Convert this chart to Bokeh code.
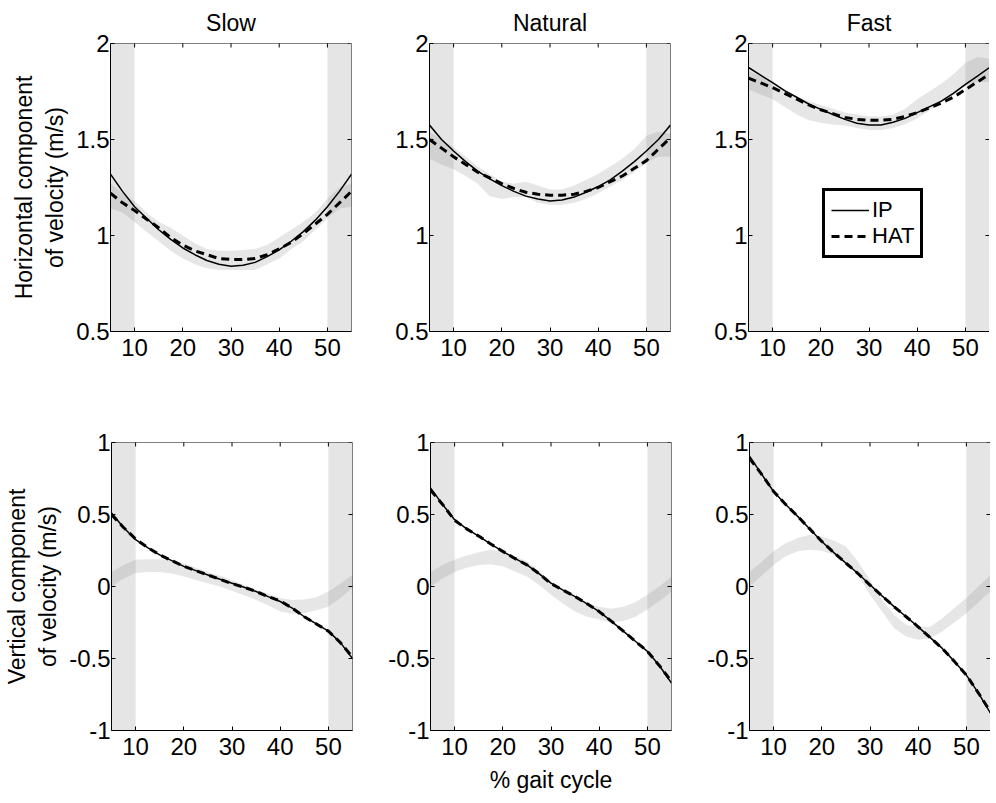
import math
from bokeh.plotting import figure
from bokeh.models import (Range1d, FixedTicker, CustomJSTickFormatter,
                          BoxAnnotation, Legend, LegendItem, Span)
from bokeh.layouts import column, row
from bokeh.embed import file_html
from bokeh.resources import INLINE

# ---------------- data ----------------
pct = [5, 7.5, 10, 12.5, 15, 17.5, 20, 22.5, 25, 27.5, 30, 32.5, 35, 37.5, 40,
       42.5, 45, 47.5, 50, 52.5, 55]
speeds = ["Slow", "Natural", "Fast"]
double_support = [(5, 10), (50, 55)]

# Horizontal component of velocity (m/s)
h_ip_slow = [1.32, 1.23, 1.15, 1.09, 1.03, 0.98, 0.935, 0.90, 0.87, 0.85, 0.84, 0.845, 0.86, 0.89, 0.925, 0.97, 1.02, 1.08, 1.15, 1.23, 1.32]
h_hat_slow = [1.22, 1.17, 1.13, 1.085, 1.04, 0.99, 0.95, 0.92, 0.90, 0.88, 0.875, 0.875, 0.88, 0.90, 0.93, 0.965, 1.01, 1.06, 1.11, 1.17, 1.23]
h_hi_slow = [1.27, 1.22, 1.18, 1.12, 1.07, 1.04, 1.00, 0.96, 0.93, 0.92, 0.92, 0.925, 0.93, 0.95, 0.99, 1.03, 1.07, 1.12, 1.19, 1.25, 1.27]
h_lo_slow = [1.14, 1.12, 1.07, 1.02, 0.97, 0.92, 0.88, 0.85, 0.83, 0.82, 0.82, 0.82, 0.82, 0.85, 0.88, 0.93, 0.97, 1.03, 1.09, 1.14, 1.15]

h_ip_nat = [1.575, 1.50, 1.44, 1.385, 1.335, 1.295, 1.26, 1.23, 1.205, 1.19, 1.18, 1.185, 1.20, 1.225, 1.255, 1.29, 1.335, 1.385, 1.44, 1.50, 1.575]
h_hat_nat = [1.50, 1.455, 1.41, 1.37, 1.33, 1.30, 1.27, 1.245, 1.225, 1.215, 1.21, 1.21, 1.215, 1.23, 1.25, 1.28, 1.31, 1.35, 1.39, 1.45, 1.51]
h_hi_nat = [1.54, 1.50, 1.46, 1.41, 1.36, 1.32, 1.28, 1.27, 1.28, 1.26, 1.24, 1.24, 1.26, 1.29, 1.32, 1.36, 1.40, 1.45, 1.52, 1.54, 1.53]
h_lo_nat = [1.40, 1.37, 1.345, 1.31, 1.27, 1.205, 1.19, 1.20, 1.20, 1.17, 1.16, 1.16, 1.17, 1.19, 1.22, 1.255, 1.29, 1.33, 1.38, 1.41, 1.41]

h_ip_fast = [1.875, 1.835, 1.796, 1.755, 1.72, 1.685, 1.657, 1.63, 1.605, 1.585, 1.575, 1.575, 1.59, 1.61, 1.64, 1.67, 1.70, 1.74, 1.787, 1.83, 1.875]
h_hat_fast = [1.82, 1.795, 1.77, 1.74, 1.71, 1.68, 1.655, 1.635, 1.615, 1.605, 1.60, 1.60, 1.605, 1.62, 1.64, 1.665, 1.69, 1.72, 1.76, 1.80, 1.84]
h_hi_fast = [1.857, 1.83, 1.80, 1.76, 1.72, 1.70, 1.68, 1.66, 1.64, 1.63, 1.62, 1.62, 1.63, 1.66, 1.71, 1.75, 1.79, 1.84, 1.90, 1.93, 1.92]
h_lo_fast = [1.76, 1.735, 1.71, 1.67, 1.63, 1.60, 1.587, 1.578, 1.573, 1.56, 1.55, 1.55, 1.56, 1.58, 1.61, 1.65, 1.69, 1.73, 1.78, 1.80, 1.80]

# Vertical component of velocity (m/s)
v_ip_slow = [0.51, 0.41, 0.325, 0.27, 0.22, 0.18, 0.14, 0.11, 0.08, 0.05, 0.023, -0.005, -0.035, -0.07, -0.104, -0.15, -0.21, -0.26, -0.31, -0.39, -0.50]
v_hat_slow = [0.50, 0.41, 0.33, 0.27, 0.22, 0.18, 0.14, 0.11, 0.08, 0.05, 0.02, -0.005, -0.035, -0.07, -0.10, -0.15, -0.21, -0.26, -0.31, -0.39, -0.49]
v_hi_slow = [0.10, 0.15, 0.185, 0.19, 0.19, 0.18, 0.16, 0.13, 0.10, 0.075, 0.046, 0.01, -0.023, -0.05, -0.08, -0.093, -0.09, -0.075, -0.035, 0.02, 0.08]
v_lo_slow = [0.0, 0.055, 0.093, 0.10, 0.10, 0.09, 0.07, 0.045, 0.023, 0.0, -0.03, -0.06, -0.093, -0.13, -0.174, -0.19, -0.185, -0.165, -0.14, -0.08, -0.01]

v_ip_nat = [0.684, 0.57, 0.464, 0.40, 0.35, 0.295, 0.244, 0.195, 0.15, 0.09, 0.023, -0.025, -0.07, -0.12, -0.174, -0.24, -0.31, -0.38, -0.45, -0.55, -0.67]
v_hat_nat = [0.67, 0.57, 0.46, 0.40, 0.35, 0.295, 0.244, 0.195, 0.15, 0.09, 0.02, -0.025, -0.07, -0.12, -0.174, -0.24, -0.31, -0.38, -0.45, -0.55, -0.66]
v_hi_nat = [0.10, 0.15, 0.185, 0.215, 0.237, 0.255, 0.244, 0.21, 0.174, 0.11, 0.035, -0.025, -0.08, -0.12, -0.14, -0.155, -0.14, -0.11, -0.058, 0.0, 0.07]
v_lo_nat = [0.0, 0.055, 0.10, 0.13, 0.15, 0.155, 0.14, 0.105, 0.07, 0.01, -0.058, -0.12, -0.174, -0.21, -0.23, -0.25, -0.24, -0.21, -0.16, -0.10, -0.035]

v_ip_fast = [0.905, 0.78, 0.66, 0.57, 0.487, 0.40, 0.313, 0.235, 0.162, 0.09, 0.012, -0.065, -0.14, -0.21, -0.28, -0.355, -0.43, -0.52, -0.615, -0.74, -0.88]
v_hat_fast = [0.89, 0.78, 0.66, 0.57, 0.487, 0.40, 0.313, 0.235, 0.162, 0.09, 0.01, -0.065, -0.14, -0.21, -0.28, -0.355, -0.43, -0.52, -0.615, -0.74, -0.87]
v_hi_fast = [0.10, 0.17, 0.244, 0.30, 0.336, 0.36, 0.348, 0.32, 0.278, 0.174, 0.046, -0.093, -0.197, -0.267, -0.28, -0.28, -0.22, -0.15, -0.08, 0.0, 0.08]
v_lo_fast = [0.0, 0.075, 0.15, 0.21, 0.244, 0.255, 0.248, 0.22, 0.174, 0.08, -0.058, -0.174, -0.29, -0.348, -0.37, -0.36, -0.31, -0.25, -0.186, -0.11, -0.035]

x_ticks = [10, 20, 30, 40, 50]
h_ticks = [0.5, 1, 1.5, 2]
v_ticks = [-1, -0.5, 0, 0.5, 1]
x_lim = (5, 55)
h_lim = (0.5, 2)
v_lim = (-1, 1)

top_data = [(h_ip_slow, h_hat_slow, h_lo_slow, h_hi_slow),
            (h_ip_nat, h_hat_nat, h_lo_nat, h_hi_nat),
            (h_ip_fast, h_hat_fast, h_lo_fast, h_hi_fast)]
bot_data = [(v_ip_slow, v_hat_slow, v_lo_slow, v_hi_slow),
            (v_ip_nat, v_hat_nat, v_lo_nat, v_hi_nat),
            (v_ip_fast, v_hat_fast, v_lo_fast, v_hi_fast)]

# ---------------- styling ----------------
FONT = "Liberation Sans"
TICK_FS = "24px"
LAB_FS = "23px"
FRAME_W, FRAME_H = 241, 288
L = [110, 68, 68]
R = [10, 10, 0]
T = [42, 51]
B = [60, 60]
fmt = CustomJSTickFormatter(code="return String(tick)")


def style_axis(ax, ticks, standoff):
    ax.ticker = FixedTicker(ticks=ticks)
    ax.formatter = fmt
    ax.major_tick_in = 4
    ax.major_tick_out = 0
    ax.minor_tick_line_color = None
    ax.major_tick_line_color = "black"
    ax.axis_line_color = "black"
    ax.axis_line_width = 1
    ax.major_label_text_font = FONT
    ax.major_label_text_color = "black"
    ax.major_label_text_font_size = TICK_FS
    ax.major_label_standoff = standoff
    ax.axis_label_text_font = FONT
    ax.axis_label_text_font_size = LAB_FS
    ax.axis_label_text_font_style = "normal"
    ax.axis_label_text_color = "black"


def make_panel(ci, ri, data, yr, yticks, title=None, ylabel=None, xlabel=None, legend=False):
    p = figure(frame_width=FRAME_W, frame_height=FRAME_H,
               x_range=Range1d(*x_lim), y_range=Range1d(*yr),
               output_backend="svg", toolbar_location=None,
               min_border_left=L[ci], min_border_right=R[ci],
               min_border_top=T[ri], min_border_bottom=B[ri],
               outline_line_color=None, background_fill_color="white",
               border_fill_color="white")
    p.grid.visible = False
    for (a, b) in double_support:
        p.add_layout(BoxAnnotation(left=a, right=b, fill_color="#e5e5e5", fill_alpha=1.0,
                                   line_alpha=0, level="underlay"))
    ip, hat, lo, hi = data
    p.varea(x=pct, y1=lo, y2=hi, fill_color="#828282", fill_alpha=0.2)
    r_ip = p.line(pct, ip, line_color="black", line_width=1.5)
    r_hat = p.line(pct, hat, line_color="black", line_width=3, line_dash="8 5")

    xax = p.xaxis[0]
    yax = p.yaxis[0]
    style_axis(xax, x_ticks, 7)
    style_axis(yax, yticks, 1)

    # box on: top and right edges with inward ticks
    p.add_layout(Span(location=x_lim[1], dimension="height", line_color="black",
                      line_width=1, level="overlay"))
    p.add_layout(Span(location=yr[1], dimension="width", line_color="black",
                      line_width=1, level="overlay"))
    p.scatter(x=x_ticks, y=[yr[1]] * len(x_ticks), marker="dash", size=8,
              angle=math.pi / 2, line_color="black", line_width=1)
    p.scatter(x=[x_lim[1]] * len(yticks), y=yticks, marker="dash", size=8,
              line_color="black", line_width=1)

    if ylabel:
        yax.axis_label = ylabel
        yax.axis_label_standoff = 5
        yax.axis_label_text_line_height = 1.2
    if xlabel:
        xax.axis_label = xlabel
        xax.axis_label_standoff = 9
    if title:
        p.title.text = title
        p.title.align = "center"
        p.title.text_font = FONT
        p.title.text_font_size = "23px"
        p.title.text_font_style = "normal"
        p.title.text_color = "black"
        p.title.standoff = 15
    if legend:
        lg = Legend(items=[LegendItem(label="IP", renderers=[r_ip]),
                           LegendItem(label="HAT", renderers=[r_hat])],
                    location=(74, 73))
        lg.border_line_color = "black"
        lg.border_line_alpha = 1.0
        lg.border_line_width = 3
        lg.background_fill_color = "white"
        lg.background_fill_alpha = 1.0
        lg.label_text_font = FONT
        lg.label_text_font_size = "22px"
        lg.label_text_color = "black"
        lg.glyph_width = 38
        lg.glyph_height = 24
        lg.label_height = 24
        lg.label_standoff = 3
        lg.padding = 6
        lg.spacing = 0
        lg.margin = 0
        p.add_layout(lg)
    return p


top = [make_panel(i, 0, top_data[i], h_lim, h_ticks, title=speeds[i],
                  ylabel="Horizontal component\nof velocity (m/s)" if i == 0 else None,
                  legend=(i == 2)) for i in range(3)]
bot = [make_panel(i, 1, bot_data[i], v_lim, v_ticks,
                  ylabel="Vertical component\nof velocity (m/s)" if i == 0 else None,
                  xlabel="% gait cycle" if i == 1 else None) for i in range(3)]

layout = column(row(*top), row(*bot))
open("out.html", "w").write(file_html(layout, INLINE))
